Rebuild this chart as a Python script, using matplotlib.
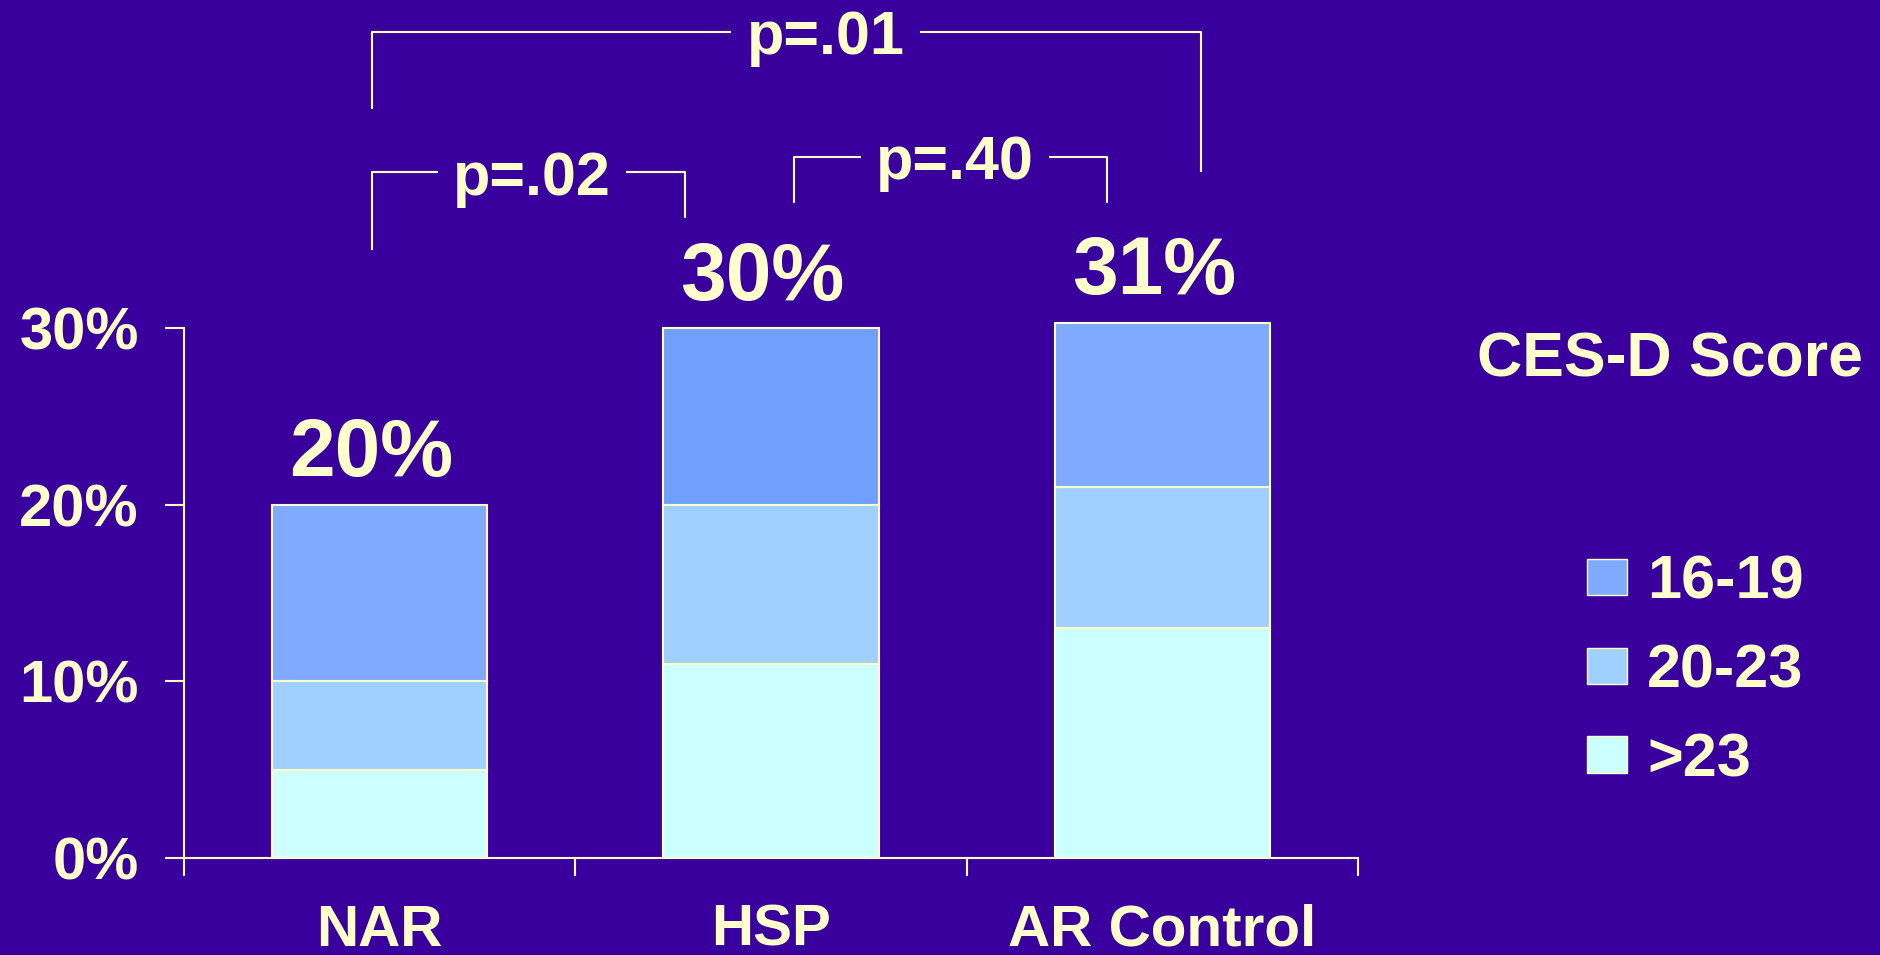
"""
CES-D score distribution by group, stacked bars with p-value brackets
"""

import matplotlib.pyplot as plt
import numpy as np
from matplotlib.patches import Patch

# data (percent of group)
groups = ["NAR", "HSP", "AR Control"]
score_gt23 = [5, 11, 13]
score_20_23 = [5, 9, 8]
score_16_19 = [10, 10, 9.3]
total_labels = ["20%", "30%", "31%"]
y_ticks = [0, 10, 20, 30]

# comparisons drawn above the bars
p_labels = ["p=.01", "p=.02", "p=.40"]
p_pairs = [(-0.02, 2.10), (-0.02, 0.78), (1.06, 1.86)]
p_top = [46.75, 38.8, 39.7]
p_legs = [(42.4, 38.8), (34.4, 36.2), (37.1, 37.1)]
p_text_x = [1.14, 0.39, 1.47]

bg = "#3A009E"
fg = "#FFFFCC"
c_16_19 = ["#80AAFF", "#70A0FF", "#80AAFF"]
c_20_23 = "#A0D0FF"
c_gt23 = "#CCFFFF"

plt.rcParams["font.family"] = ["Liberation Sans", "DejaVu Sans"]
plt.rcParams["font.weight"] = "bold"

fig = plt.figure(figsize=(18.81, 9.55), dpi=100, facecolor=bg)
ax = fig.add_axes([0.0978, 0.1016, 0.6241, 0.592])
ax.set_facecolor(bg)

x = np.arange(len(groups))
w = 0.55
gt23 = np.array(score_gt23, dtype=float)
mid = np.array(score_20_23, dtype=float)
top = np.array(score_16_19, dtype=float)

ax.bar(x, gt23, w, color=c_gt23, edgecolor=fg, linewidth=1.5)
ax.bar(x, mid, w, bottom=gt23, color=c_20_23, edgecolor=fg, linewidth=1.5)
ax.bar(x, top, w, bottom=gt23 + mid, color=c_16_19, edgecolor=fg, linewidth=1.5)

totals = gt23 + mid + top
for xi, t, lab in zip(x, totals, total_labels):
    ax.annotate(lab, xy=(xi, t + 1.6), xytext=(-6, 0), textcoords="offset points",
                ha="center", va="baseline", fontsize=59, color=fg,
                fontweight="bold", annotation_clip=False)

# p-value brackets
for lab, (x1, x2), yt, (yl, yr), xt in zip(p_labels, p_pairs, p_top, p_legs, p_text_x):
    ax.plot([x1, x1, x2, x2], [yl, yt, yt, yr], color=fg, lw=1.5,
            clip_on=False, solid_capstyle="butt")
    ax.annotate(lab, xy=(xt, yt), xytext=(0, -16), textcoords="offset points",
                ha="center", va="baseline", fontsize=44, color=fg,
                fontweight="bold", annotation_clip=False, zorder=5,
                bbox=dict(boxstyle="square,pad=0.25", facecolor=bg, edgecolor="none"))

ax.set_xlim(-0.5, 2.5)
ax.set_ylim(0, 32)
ax.set_yticks(y_ticks)
ax.set_yticklabels([f"{v}%" for v in y_ticks])
ax.set_xticks(x)
ax.set_xticklabels(groups)
ax.set_xticks(np.arange(-0.5, 3, 1), minor=True)

for s in ["top", "right"]:
    ax.spines[s].set_visible(False)
for s in ["left", "bottom"]:
    ax.spines[s].set_color(fg)
    ax.spines[s].set_linewidth(1.5)
ax.spines["left"].set_bounds(0, 30)

ax.tick_params(axis="y", colors=fg, labelsize=43, length=13.5, width=1.5, pad=19)
ax.tick_params(axis="x", which="major", colors=fg, labelsize=42, length=0, pad=33)
ax.tick_params(axis="x", which="minor", colors=fg, length=13, width=1.5)
for t in ax.get_yticklabels() + ax.get_xticklabels():
    t.set_fontweight("bold")

fig.text(0.8878, 0.623, "CES-D Score", ha="center", va="center", fontsize=45,
         color=fg, fontweight="bold")

handles = [
    Patch(facecolor=c_16_19[0], edgecolor=fg, label="16-19"),
    Patch(facecolor=c_20_23, edgecolor=fg, label="20-23"),
    Patch(facecolor=c_gt23, edgecolor=fg, label=">23"),
]
leg = fig.legend(handles=handles, loc="center left", bbox_to_anchor=(0.8437, 0.2963),
                 frameon=False, fontsize=44, handlelength=0.655, handleheight=0.54,
                 handletextpad=0.33, labelspacing=0.52, borderpad=0, borderaxespad=0)
for t in leg.get_texts():
    t.set_color(fg)
    t.set_fontweight("bold")

fig.savefig("out.png", facecolor=bg)
